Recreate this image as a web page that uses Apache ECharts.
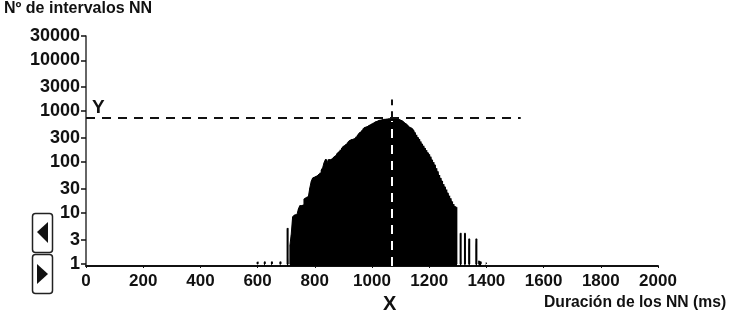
<!DOCTYPE html>
<html>
<head>
<meta charset="utf-8">
<style>html,body{margin:0;padding:0;background:#fff}#c{width:730px;height:315px}</style>
<script src="https://cdn.jsdelivr.net/npm/echarts@6/dist/echarts.min.js"></script>
</head>
<body>
<div id="c"></div>
<script>
const yTicks = [1, 3, 10, 30, 100, 300, 1000, 3000, 10000, 30000];
const firstBinMs = 600;
const binMs = 5;
const counts = [
1.1,null,null,null,null,1.1,null,null,null,null,1.1,null,null,null,null,null,1.1,null,null,null,
null,5,null,2.2,3.8,8.5,9.2,9.3,9.5,12,
14,14,14.5,19,20,21,22,31,42,49,
51,53,55,58,62,70,78,98,114,95,
112,112,116,122,128,135,148,160,175,190,
200,212,226,240,255,272,280,278,290,315,
335,360,390,420,455,475,490,510,530,545,
565,590,610,630,645,660,670,680,690,695,
700,705,712,706,716,708,702,700,696,690,
670,640,610,585,550,525,495,475,450,420,
385,345,310,285,255,230,210,190,172,155,
142,128,112,100,89,76,66,56,49,43,
37,33,29,25,22,19.5,17,15,13.5,13,
null,null,4,null,null,4,null,null,3.1,null,
null,null,null,3.1,null,1.15,1.1,null,null,null,1.05
];
const peakX = 1070;
const peakY = 729;
const dashEndX = 1520;
const dashTopY = 1700;
const baseY = 0.914;
const xTop = 30000;
const bars = counts.map((v, i) => [firstBinMs + i * binMs, v === null ? '-' : v]);
const labelFont = {fontFamily: 'Liberation Sans', fontWeight: 'bold', color: '#111'};
const chart = echarts.init(document.getElementById('c'), null, {renderer: 'canvas'});
chart.setOption({
  animation: false,
  backgroundColor: '#fff',
  grid: {left: 86, right: 72, top: 36, bottom: 49},
  title: [
    {text: 'Nº de intervalos NN', left: 4, top: 1, padding: 0, textStyle: {...labelFont, fontSize: 16}},
    {text: 'Duración de los NN (ms)', left: 544, top: 295, padding: 0, textStyle: {...labelFont, fontSize: 15.7}},
    {text: 'Y', left: 92, top: 98, padding: 0, textStyle: {fontFamily: 'Liberation Sans', fontWeight: 'bold', fontSize: 19, color: '#111'}},
    {text: 'X', left: 383, top: 294, padding: 0, textStyle: {fontFamily: 'Liberation Sans', fontWeight: 'bold', fontSize: 20, color: '#111'}}
  ],
  xAxis: {
    type: 'value', min: 0, max: 2000, interval: 200,
    splitLine: {show: false},
    axisLine: {lineStyle: {color: '#111', width: 2}},
    axisTick: {length: 2, lineStyle: {color: '#111', width: 1}},
    axisLabel: {...labelFont, fontSize: 17, margin: 7, formatter: v => String(v)}
  },
  yAxis: {
    type: 'log', logBase: 10, min: baseY, max: xTop,
    splitLine: {show: false}, minorTick: {show: false}, minorSplitLine: {show: false},
    axisLine: {show: true, lineStyle: {color: '#333', width: 1.5}},
    axisTick: {show: true, length: 5, lineStyle: {color: '#111', width: 1.5}, customValues: yTicks},
    axisLabel: {...labelFont, fontSize: 18, margin: 6, customValues: yTicks, formatter: v => String(Math.round(v))}
  },
  series: [{
    type: 'line', data: bars, step: 'middle', showSymbol: false, symbol: 'none', silent: true, z: 1,
    lineStyle: {color: '#000', width: 1}, itemStyle: {color: '#000'},
    areaStyle: {color: '#000', opacity: 1, origin: 'start'}
  }, {
    type: 'bar', data: bars, barWidth: 2, barGap: 0, silent: true, z: 2,
    itemStyle: {color: '#000', borderColor: '#000', borderWidth: 1.3},
    markLine: {
      silent: true, symbol: 'none', label: {show: false}, animation: false,
      data: [
        [{coord: [0, peakY], lineStyle: {color: '#111', width: 2, type: [9, 7]}}, {coord: [dashEndX, peakY]}],
        [{coord: [peakX, peakY], lineStyle: {color: '#111', width: 2, type: [7, 6]}}, {coord: [peakX, dashTopY]}],
        [{coord: [peakX, baseY], lineStyle: {color: '#fff', width: 2, type: [9, 7]}}, {coord: [peakX, 640]}]
      ]
    }
  }],
  graphic: [
    {type: 'rect', shape: {x: 32.5, y: 213.5, width: 20, height: 39, r: 3}, style: {fill: '#fff', stroke: '#222', lineWidth: 1.5}},
    {type: 'polygon', shape: {points: [[37, 232], [48, 222], [48, 243]]}, style: {fill: '#111'}},
    {type: 'rect', shape: {x: 32.5, y: 254.5, width: 20, height: 39, r: 3}, style: {fill: '#fff', stroke: '#222', lineWidth: 1.5}},
    {type: 'polygon', shape: {points: [[37, 264], [48, 274], [37, 284]]}, style: {fill: '#111'}}
  ]
});
</script>
</body>
</html>
